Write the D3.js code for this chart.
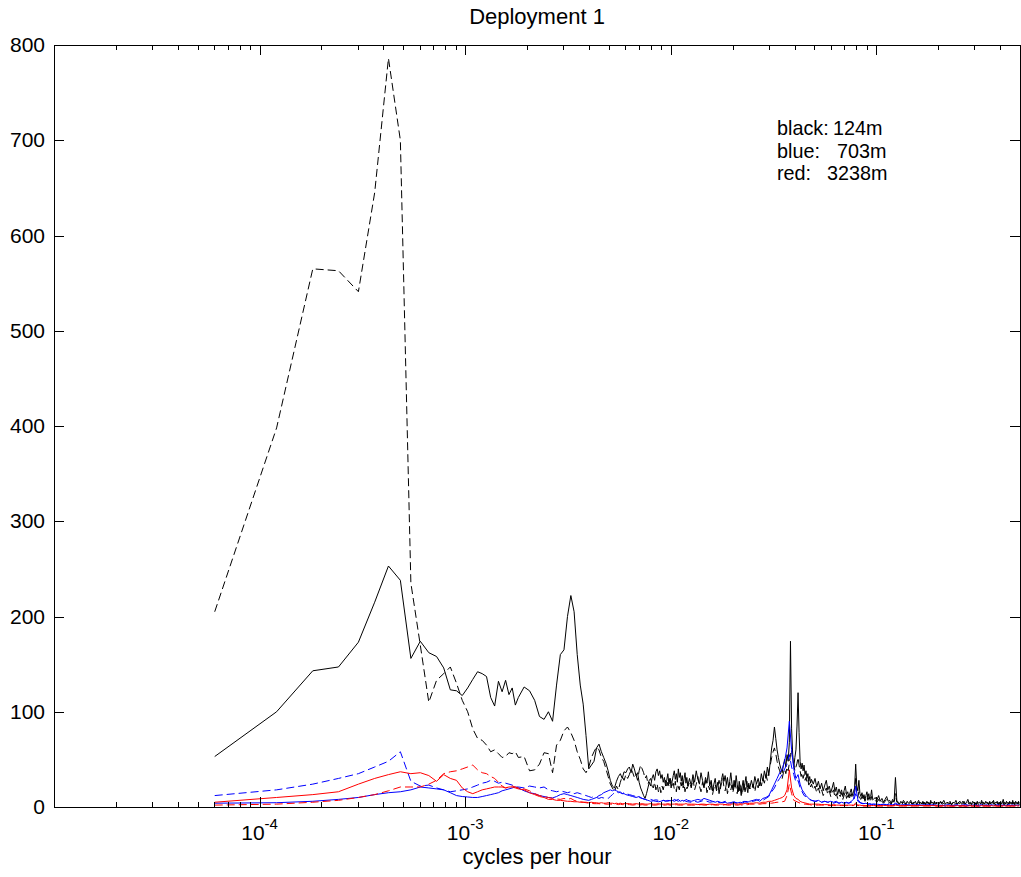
<!DOCTYPE html>
<html>
<head>
<meta charset="utf-8">
<script src="https://cdn.jsdelivr.net/npm/d3@7"></script>
<style>
  body { margin: 0; background: #fff; }
  text { font-family: "Liberation Sans", Arial, Helvetica, sans-serif; fill: #000; }
</style>
</head>
<body>
<svg id="chart" width="1021" height="877"></svg>
<script>
// Spectral bin width (cycles per hour)
const freqStep = 6.05e-5;

// Bins plotted for the 124 m record (finer sampling of the noisy high-frequency part)
const blackBins = [
  1,2,3,4,5,6,7,8,9,10,11,12,13,14,15,16,17,18,19,20,21,22,23,24,25,26,27,28,29,30,
  32,34,36,38,40,42,44,46,48,50,52,54,56,58,60,62,64,66,68,70,72,74,76,78,80,82,84,86,88,90,92,94,96,98,100,
  102,104,106,108,110,112,114,116,118,120,122,124,126,128,130,132,134,136,138,140,142,144,146,148,150,
  152,154,156,158,160,162,164,166,168,170,172,174,176,178,180,182,184,186,188,190,192,194,196,198,200,
  204,208,212,216,220,224,228,232,236,240,244,248,252,256,260,264,268,272,276,280,284,288,292,296,300,
  304,308,312,316,320,324,328,332,336,340,344,348,352,356,360,364,368,372,376,380,384,388,392,396,400,
  408,416,424,432,440,448,456,464,472,480,488,496,504,512,520,528,536,544,552,560,568,576,584,592,600,
  608,616,624,632,640,648,656,664,672,680,688,696,704,712,720,728,736,744,752,760,768,776,784,792,800,
  816,832,848,864,880,896,912,928,944,960,976,992,1008,1024,1040,1056,1072,1088,1104,1120,1136,1152,1168,1184,1200,
  1216,1232,1248,1264,1280,1296,1312,1328,1344,1360,1376,1392,1408,1424,1440,1456,1472,1488,1504,1520,1536,1552,1568,1584,1600,
  1632,1664,1696,1728,1760,1792,1824,1856,1888,1920,1952,1984,2016,2048,2080,2112,2144,2176,2208,2240,2272,2304,2336,2368,2400,
  2432,2464,2496,2528,2560,2592,2624,2656,2688,2720,2752,2784,2816,2848,2880,2912,2944,2976,3008,3040,3072,3104,3136,3168,3200,
  3264,3328,3392,3456,3520,3584,3648,3712,3776,3840,3904,3968,4032,4096,4160,4224,4288,4352,4416,4480,
  4544,4608,4672,4736,4800,4864,4928,4992,5056,5120,5184,5248,5312,5376,5440,5504,5568,5632,5696,5760,
  5824,5888,5952,6016,6080,6144,6208,6272,6336,6400,6464,6528,6592,6656,6720,6784,6848,6912,6976,7040,
  7104,7168,7232,7296,7360,7424,7488,7552,7616,7680,7744,7808,7872,7936,8000,8064,8128,8192
];

// Bins plotted for the 703 m and 3238 m records
const deepBins = [
  1,2,3,4,5,6,7,8,9,10,11,12,13,14,15,16,17,18,19,20,21,22,23,24,25,26,27,28,29,30,
  32,34,36,38,40,42,44,46,48,50,52,54,56,58,60,62,64,66,68,70,72,74,76,78,80,82,84,86,88,90,92,94,96,98,100,
  104,108,112,116,120,124,128,132,136,140,144,148,152,156,160,164,168,172,176,180,184,188,192,196,200,
  208,216,224,232,240,248,256,264,272,280,288,296,304,312,320,328,336,344,352,360,368,376,384,392,400,
  416,432,448,464,480,496,512,528,544,560,576,592,608,624,640,656,672,688,704,720,736,752,768,784,800,
  832,864,896,928,960,992,1024,1056,1088,1120,1152,1184,1216,1248,1280,1312,1344,1376,1408,1440,1472,1504,1536,1568,1600,
  1664,1728,1792,1856,1920,1984,2048,2112,2176,2240,2304,2368,2432,2496,2560,2624,2688,2752,2816,2880,2944,3008,3072,3136,3200,
  3328,3456,3584,3712,3840,3968,4096,4224,4352,4480,4608,4736,4864,4992,5120,5248,5376,5504,5632,5760,5888,6016,6144,6272,6400,
  6528,6656,6784,6912,7040,7168,7296,7424,7552,7680,7808,7936,8064,8192
];

// 124 m
const blackSolid = [
  53,100,143,147,173,215,253,238,156,174,162,158,146,123,122,117,125,134,142,140,137,115,106,132,121,133,118,125,107,115,
  126,122,112,95,92,100,90,128,160,165,200,222,205,160,128,108,75,40,44,48,62,66,58,52,46,38,28,22,20,27,32,35,30,37,36,
  40,42,36,45,40,33,36,26,20,16,12,9,14,20,26,22,30,34,28,37,40,33,38,30,34,
  26,31,22,28,35,24,30,20,27,33,38,29,35,26,40,31,36,27,33,23,30,36,25,31,22,
  30,22,34,26,38,29,24,36,28,20,31,25,37,22,28,17,24,30,19,26,14,22,29,35,27,
  33,24,31,20,27,36,25,18,28,21,33,24,16,27,20,12,22,28,18,26,32,20,15,25,19,
  28,20,32,24,30,22,35,27,38,30,42,33,48,62,70,84,72,60,52,45,40,36,44,50,42,
  55,48,68,174,82,55,42,52,60,85,120,78,48,40,46,38,44,34,38,30,35,27,32,25,29,
  24,30,21,27,19,25,17,23,28,18,22,15,20,26,16,21,13,19,14,18,11,17,22,13,16,
  10,15,19,12,16,20,45,22,17,28,14,11,15,9,13,8,12,16,10,14,8,11,18,9,8,
  10,7,12,6,9,5,8,11,6,7,4,8,5,31,7,5,3,6,4,7,5,3,6,4,5,
  7,3,5,4,6,3,5,7,4,5,3,6,4,5,3,6,4,5,3,7,4,5,3,6,4,
  5,3,6,4,7,3,5,4,6,2,5,4,7,3,5,6,3,4,6,3,
  5,8,4,5,3,6,4,5,2,6,4,5,3,7,4,5,3,6,4,5,
  3,6,3,5,4,7,3,5,4,6,3,5,4,6,3,5,8,4,5,3,
  6,4,5,3,6,4,5,3,7,4,5,3,6,4,5,3,6,4
];
const blackDashed = [
  205,398,565,563,541,645,786,700,235,170,110,133,140,147,130,112,100,82,72,70,65,58,60,56,52,53,57,56,58,52,
  53,38,39,45,57,56,36,65,70,80,84,78,70,58,50,40,36,42,52,58,63,60,52,48,40,32,24,20,16,22,18,26,32,28,34,
  30,34,40,36,31,34,28,38,44,40,36,30,33,24,28,30,22,20,26,18,24,16,21,15,22,
  18,24,28,20,26,22,30,27,22,25,19,27,16,24,21,18,26,22,28,20,24,16,22,19,21,
  26,20,30,18,24,32,22,16,26,20,28,15,22,18,26,13,20,24,17,22,28,19,25,30,21,
  17,24,14,20,26,18,23,16,21,28,19,14,22,17,25,20,13,19,24,16,22,27,18,23,20,
  18,24,16,26,20,28,22,30,25,34,28,38,44,52,58,62,56,48,42,38,34,30,36,40,35,
  42,38,46,55,60,50,44,38,42,46,52,44,38,32,36,30,34,28,31,26,29,23,26,21,24,
  18,22,15,20,14,18,12,16,20,13,17,11,15,18,10,14,9,13,11,15,8,12,16,9,12,
  8,11,14,9,12,15,30,14,10,16,9,8,11,7,10,6,9,12,7,10,6,8,11,6,7,
  7,5,8,4,6,4,6,8,4,5,3,6,4,14,5,4,3,5,3,5,4,2,5,3,4,
  5,3,4,3,5,2,4,5,3,4,2,5,3,4,2,5,3,4,2,5,3,4,2,5,3,
  4,2,5,3,4,2,5,3,4,3,5,2,4,3,5,2,4,6,3,4,
  2,5,3,4,2,5,3,4,3,5,2,4,3,5,2,4,3,5,3,4,
  2,5,3,4,6,3,4,2,5,3,4,2,5,3,4,3,5,2,4,3,
  5,2,4,3,5,3,4,2,5,3,4,2,5,3,4,3,5,2
];

// 703 m
const blueSolid = [
  4,4.5,6,8,10,13,15,16,18,21,20,19,18,15,12,11,10.5,10,10,11,12,13,14,15,17,18,19,20,21,20,
  17,15,14,12,11,10,9.5,11,13,14,13,12,11,10,9,8,7.5,7,8,9,10,12,13,15,16,17,18,17,18,17,16,15,14,14,13,
  12,11,10,11,9,8,7,6,6.5,6,5.5,6,7,6,7,6.5,7,6,7,8,6,7,6,8,7,
  6,7,8,7,9,8,7,6,5,6,5,4.5,5,4,4.5,4,5,4,4.5,5,4,5,6,5,6,
  7,8,6,9,10,12,18,24,30,36,40,48,62,90,60,40,30,34,24,18,15,12,10,8,7,
  6,7,5,6,5,6,5,6,4,5,4,5,4,6,8,22,8,5,4,3.5,4,3,3.5,3,3,
  3,2.5,3,2.5,3,2,4,2.5,2,2.5,2,2.5,2,2.5,2,2.5,2,2,2.5,2,2.5,2,2,2.5,2,
  2,1.5,2,2.5,1.5,2,2,1.5,2,2.5,2,1.5,2,2,1.5,2,2.5,1.5,2,2,1.5,2,2,1.5,2.5,
  2,1.5,2,2,1.5,2,2.5,1.5,2,2,1.5,2,2,1.5
];
const blueDashed = [
  12,18,24,30,35,42,48,58,27,22,23,20,18,16,17,18,19,21,23,25,26,28,27,25,26,25,24,23,21,21,
  20,22,21,20,21,18,17,16,17,16,15,16,14,15,14,13,12,11,10,11,10,9,10,9.5,10,9,11,13,15,16,15,16,14,15,14,
  13,12,11,10,9,8,7,8,7,7.5,7,6,7,6.5,6,7,6,8,7,6,7,6,7,6,5.5,
  5,6,5,6,7,6,5,5.5,6,5,4.5,5,6,5,4,5,5.5,4.5,5,4,5,6,5,5.5,6,
  6,7,8,7,9,11,16,20,26,30,34,40,45,55,42,34,26,28,20,16,12,11,9,8,7,
  6,6,5,6,5,5,4,5,4,4.5,4,4.5,4,5,6,14,6,4.5,3.5,3.5,3,3,3,2.5,3,
  2.5,2,2.5,2,2.5,2,3,2,1.5,2,2,1.5,2,2,1.5,2,2,1.5,2,2,1.5,2,2,1.5,2,
  1.5,2,1,2,1.5,1.5,2.5,1.5,2,1,1.5,2,1.5,2.5,1.5,1,2,1.5,2,1.5,1.5,2.5,1,2,1.5,
  1.5,2,1.5,2.5,1,1.5,2,1.5,2,1.5,1,2,1.5,2
];

// 3238 m
const redSolid = [
  5,10,13,16,24,30,34,37,35,36,33,27,34,30,28,20,16,14,16,18,19,20,21,21,21,20,21,21,20,19,
  18,15,13,11,10,8,8,7,7,6.5,6,6,5.5,5.5,5,5,5,4.5,5,4.5,4.5,4,4.5,4,4,4.5,4,4,3.5,4,3.5,4,3.5,3.5,3.5,
  3.5,3,3.5,3,3.5,3,3,3.5,3,3,3.5,3,3,3,3.5,3,3,3,3.5,3,3,3,3,3.5,3,
  3,3,2.5,3,3,2.5,3,3,2.5,3,3,3,2.5,3,3,3,3.5,3,3,3.5,3,3.5,4,3.5,4,
  4,4.5,4,5,5,6,6,7,8,9,10,12,18,39,20,12,9,8,6,5,4.5,4,3.5,3,3,
  3,3,2.5,2.5,2.5,2,2.5,2,2,2,2,2,2,2,2,4,2,2,1.5,1.5,1.5,1.5,1.5,1.5,1.5,
  1.5,1.5,1.5,1.5,1.5,1.5,2,1.5,1.5,1.5,1.5,1.5,1.5,1.5,1.5,1.5,1.5,1.5,1.5,1.5,1.5,1.5,1.5,1.5,1.5,
  1,1.5,1,1.5,1,1,1.5,1,1.5,1,1,1.5,1,1.5,1,1,1.5,1,1.5,1,1,1.5,1,1.5,1,
  1,1.5,1,1.5,1,1,1.5,1,1.5,1,1,1.5,1,1.5
];
const redDashed = [
  2,3,5,7,10,13,17,21,21,21,24,28,35,37,38,40,42,44,39,36,35,32,30,26,22,20,21,22,21,20,
  19,17,14,12,11,10,9,8.5,8,9,8,9,7,6,5.5,5,4.5,4,4,3.5,3.5,3.5,3,3.5,3,3,3,3,2.5,3,2.5,3,2.5,2.5,2.5,
  2.5,2,2.5,2,2.5,2,2,2.5,2,2,2.5,2,2,2,2.5,2,2,2,2.5,2,2,2,2,2.5,2,
  2,2,2,2.5,2,2,2,2.5,2,2,2,2,2.5,2,2,2,2.5,2,2,2.5,2,2.5,2.5,2.5,3,
  3,3,3,3.5,3.5,4,4,4.5,5,5,5.5,6,12,24,14,7,6,5,4,3.5,3,3,2.5,2.5,2,
  2,2,2,2,1.5,1.5,1.5,1.5,1.5,1.5,1.5,1.5,1.5,1.5,1.5,3,1.5,1.5,1,1,1,1,1,1,1,
  1,1,1,1,1,1,1.5,1,1,1,1,1,1,1,1,1,1,1,1,1,1,1,1,1,1,
  1,0.8,1,1,0.8,1,1,0.8,1,1,1,0.8,1,1,0.8,1,1,1,0.8,1,1,0.8,1,1,1,
  0.8,1,1,0.8,1,1,1,0.8,1,1,0.8,1,1,1
];

// Axis ticks and annotation text
const yTicks = [0, 100, 200, 300, 400, 500, 600, 700, 800];
const xMajorTicks = [1e-4, 1e-3, 1e-2, 1e-1];
const xTickExponents = ["-4", "-3", "-2", "-1"];
const legendLabels = ["black:", "blue:", "red:"];
const legendDepths = ["124m", "703m", "3238m"];
const titleText = "Deployment 1";
const xLabelText = "cycles per hour";

const series = [
  { values: blackSolid,  bins: blackBins, color: "#000000", dash: null },
  { values: blackDashed, bins: blackBins, color: "#000000", dash: "8,4" },
  { values: blueSolid,   bins: deepBins,  color: "#0000ff", dash: null },
  { values: blueDashed,  bins: deepBins,  color: "#0000ff", dash: "8,4" },
  { values: redSolid,    bins: deepBins,  color: "#ff0000", dash: null },
  { values: redDashed,   bins: deepBins,  color: "#ff0000", dash: "8,4" }
];

const plot = { left: 54, top: 45, right: 1020, bottom: 807 };
const svg = d3.select("#chart");

const x = d3.scaleLog().domain([1e-5, 0.5]).range([plot.left, plot.right]);
const y = d3.scaleLinear().domain([0, 800]).range([plot.bottom, plot.top]);

// Minor log ticks: 2..9 within each decade
const xMinorTicks = x.ticks().filter(v => {
  const m = v / Math.pow(10, Math.floor(Math.log10(v) + 1e-9));
  return Math.round(m) !== 1 && v < 0.5 - 1e-9;
});

svg.append("defs").append("clipPath").attr("id", "plotClip")
  .append("rect")
  .attr("x", plot.left).attr("y", plot.top)
  .attr("width", plot.right - plot.left).attr("height", plot.bottom - plot.top);

// Spectra
const lines = svg.append("g").attr("clip-path", "url(#plotClip)");
series.forEach(s => {
  const pts = s.values.map((v, i) => [s.bins[i] * freqStep, v]);
  const line = d3.line().x(d => x(d[0])).y(d => y(d[1]));
  lines.append("path")
    .datum(pts)
    .attr("fill", "none")
    .attr("stroke", s.color)
    .attr("stroke-width", 1)
    .attr("stroke-linejoin", "round")
    .attr("stroke-dasharray", s.dash)
    .attr("d", line);
});

// Axes: ticks point inward on all four sides
function cleanAxis(g) {
  g.select(".domain").remove();
  g.selectAll(".tick line").attr("stroke", "#000").attr("shape-rendering", "crispEdges");
}

svg.append("g").attr("transform", `translate(0,${plot.bottom})`)
  .call(d3.axisBottom(x).tickValues(xMajorTicks).tickSize(-10).tickFormat(""))
  .call(cleanAxis);
svg.append("g").attr("transform", `translate(0,${plot.bottom})`)
  .call(d3.axisBottom(x).tickValues(xMinorTicks).tickSize(-5).tickFormat(""))
  .call(cleanAxis);
svg.append("g").attr("transform", `translate(0,${plot.top})`)
  .call(d3.axisTop(x).tickValues(xMajorTicks).tickSize(-10).tickFormat(""))
  .call(cleanAxis);
svg.append("g").attr("transform", `translate(0,${plot.top})`)
  .call(d3.axisTop(x).tickValues(xMinorTicks).tickSize(-5).tickFormat(""))
  .call(cleanAxis);

const yAxisLeft = svg.append("g").attr("transform", `translate(${plot.left},0)`)
  .call(d3.axisLeft(y).tickValues(yTicks).tickSize(-10).tickPadding(9).tickFormat(d3.format("d")))
  .call(cleanAxis);
yAxisLeft.selectAll(".tick text")
  .attr("font-size", 21)
  .attr("font-family", "Liberation Sans, Arial, sans-serif")
  .attr("fill", "#000");

svg.append("g").attr("transform", `translate(${plot.right},0)`)
  .call(d3.axisRight(y).tickValues(yTicks).tickSize(-10).tickFormat(""))
  .call(cleanAxis);

// Frame
svg.append("rect")
  .attr("x", plot.left + 0.5).attr("y", plot.top + 0.5)
  .attr("width", plot.right - plot.left).attr("height", plot.bottom - plot.top)
  .attr("fill", "none").attr("stroke", "#000").attr("stroke-width", 1)
  .attr("shape-rendering", "crispEdges");

// Decade labels with superscript exponents
const xLabels = svg.append("g");
xMajorTicks.forEach((v, i) => {
  const t = xLabels.append("text")
    .attr("x", x(v))
    .attr("y", 840)
    .attr("text-anchor", "middle")
    .attr("font-size", 21);
  t.append("tspan").text("10");
  t.append("tspan").attr("font-size", 15).attr("dy", -11).text(xTickExponents[i]);
});

// Title and axis label
svg.append("text")
  .attr("x", (plot.left + plot.right) / 2).attr("y", 24)
  .attr("text-anchor", "middle").attr("font-size", 22)
  .text(titleText);
svg.append("text")
  .attr("x", (plot.left + plot.right) / 2).attr("y", 864)
  .attr("text-anchor", "middle").attr("font-size", 22)
  .text(xLabelText);

// Depth key
const key = svg.append("g");
const keyDepthX = [833, 837, 827];
legendLabels.forEach((lab, i) => {
  const yy = 135 + i * 22.5;
  key.append("text").attr("x", 777).attr("y", yy).attr("font-size", 19.8).text(lab);
  key.append("text").attr("x", keyDepthX[i]).attr("y", yy).attr("font-size", 19.8).text(legendDepths[i]);
});
</script>
</body>
</html>
